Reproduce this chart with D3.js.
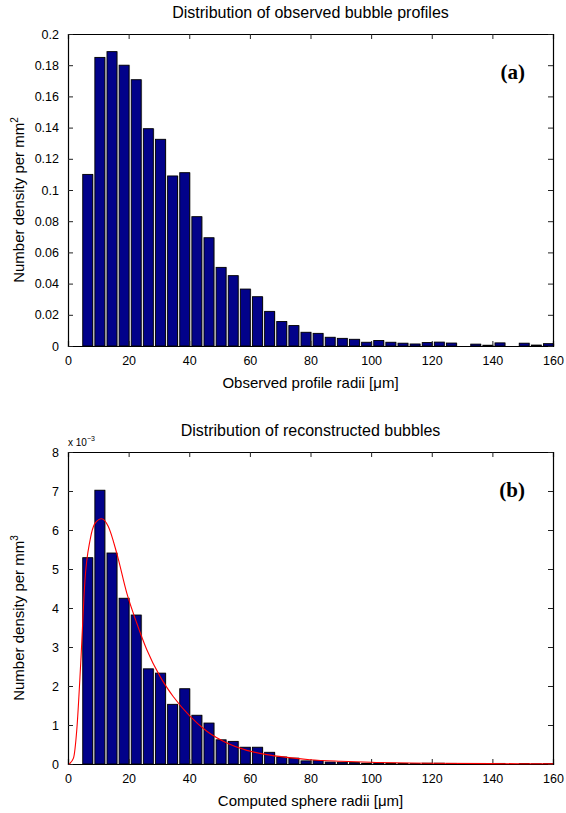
<!DOCTYPE html>
<html>
<head>
<meta charset="utf-8">
<script src="https://cdn.jsdelivr.net/npm/d3@7/dist/d3.min.js"></script>
<style>
  body { margin: 0; background: #fff; }
  svg text { fill: #000; }
</style>
</head>
<body>
<svg id="chart" width="566" height="813" font-family="Liberation Sans, Arial, sans-serif"></svg>
<script>
// ---------- data ----------
const binCenters = [6.5, 10.5, 14.5, 18.5, 22.5, 26.5, 30.5, 34.5, 38.5, 42.5,
  46.5, 50.5, 54.5, 58.5, 62.5, 66.5, 70.5, 74.5, 78.5, 82.5,
  86.5, 90.5, 94.5, 98.5, 102.5, 106.5, 110.5, 114.5, 118.5, 122.5,
  126.5, 130.5, 134.5, 138.5, 142.5, 146.5, 150.5, 154.5, 158.5];

// (a) observed profile densities per mm^2
const observedDensity = [0.110, 0.185, 0.1887, 0.180, 0.1707, 0.1393, 0.1325, 0.109, 0.1111, 0.0829,
  0.0694, 0.0504, 0.0451, 0.0365, 0.0316, 0.0222, 0.0157, 0.0131, 0.0088, 0.0081,
  0.0056, 0.0049, 0.0043, 0.0024, 0.0035, 0.0024, 0.0018, 0.0013, 0.0022, 0.0025,
  0.0019, 0.0, 0.0012, 0.0005, 0.0020, 0.0, 0.0018, 0.0006, 0.0015];

// (b) reconstructed sphere densities per mm^3 (x 10^-3)
const sphereDensity = [5.29, 7.02, 5.41, 4.25, 3.82, 2.44, 2.33, 1.53, 1.93, 1.25,
  1.05, 0.62, 0.58, 0.43, 0.43, 0.30, 0.18, 0.15, 0.08, 0.085,
  0.05, 0.045, 0.035, 0.02, 0.03, 0.02, 0.015, 0.01, 0.02, 0.02,
  0.015, 0.0, 0.01, 0.005, 0.015, 0.0, 0.012, 0.005, 0.01];

// fitted curve in (b)
const fitX = [0.4, 1.8, 2.9, 4.2, 5.6, 7.3, 8.9, 11.1, 13.3, 16.1, 19.4, 22.7, 26.0, 30.4, 34.7,
  40.3, 45.8, 52.4, 59.0, 65.6, 72.2, 79.8, 90, 100, 120, 140, 160];
const fitY = [0, 0.15, 0.88, 2.59, 4.72, 5.75, 6.17, 6.29, 6.09, 5.40, 4.38, 3.61, 2.93, 2.24, 1.73,
  1.22, 0.84, 0.54, 0.35, 0.24, 0.17, 0.11, 0.07, 0.045, 0.02, 0.01, 0.005];

const xTicks = [0, 20, 40, 60, 80, 100, 120, 140, 160];
const yTicksA = [0, 0.02, 0.04, 0.06, 0.08, 0.1, 0.12, 0.14, 0.16, 0.18, 0.2];
const yTickLabelsA = ["0", "0.02", "0.04", "0.06", "0.08", "0.1", "0.12", "0.14", "0.16", "0.18", "0.2"];
const yTicksB = [0, 1, 2, 3, 4, 5, 6, 7, 8];
const yTickLabelsB = ["0", "1", "2", "3", "4", "5", "6", "7", "8"];

// ---------- drawing ----------
const svg = d3.select("#chart");
const left = 68, right = 553;
const barColor = "#02028a";
const binWidth = 4, barFrac = 0.82;
const sans = "Liberation Sans, Arial, sans-serif";

function panel(opts) {
  const { top, bottom, yMax, yTicks, yLabels, values, title, xLabel, yLabelMain, yLabelSup, tag } = opts;
  const x = d3.scaleLinear().domain([0, 160]).range([left, right]);
  const y = d3.scaleLinear().domain([0, yMax]).range([bottom, top]);
  const g = svg.append("g");

  const bw = binWidth * barFrac;
  g.selectAll("rect.shadow").data(binCenters).enter().append("rect")
    .attr("x", (d) => x(d - bw / 2) + 1)
    .attr("y", (d, i) => y(values[i]))
    .attr("width", (d) => x(d + bw / 2) - x(d - bw / 2))
    .attr("height", (d, i) => Math.max(0, bottom - y(values[i])))
    .attr("fill", "#b8b8b8");
  g.selectAll("rect.bar").data(binCenters).enter().append("rect")
    .attr("x", (d) => x(d - bw / 2))
    .attr("y", (d, i) => y(values[i]))
    .attr("width", (d) => x(d + bw / 2) - x(d - bw / 2))
    .attr("height", (d, i) => Math.max(0, bottom - y(values[i])))
    .attr("fill", barColor)
    .attr("stroke", "#000")
    .attr("stroke-width", 0.9);

  const fmtY = (d) => yLabels[yTicks.indexOf(d)];
  const axB = g.append("g").attr("transform", `translate(0,${bottom})`)
    .call(d3.axisBottom(x).tickValues(xTicks).tickSize(-5).tickPadding(10).tickFormat(d3.format("d")));
  const axT = g.append("g").attr("transform", `translate(0,${top})`)
    .call(d3.axisTop(x).tickValues(xTicks).tickSize(-5).tickFormat(""));
  const axL = g.append("g").attr("transform", `translate(${left},0)`)
    .call(d3.axisLeft(y).tickValues(yTicks).tickSize(-5).tickPadding(9).tickFormat(fmtY));
  const axR = g.append("g").attr("transform", `translate(${right},0)`)
    .call(d3.axisRight(y).tickValues(yTicks).tickSize(-5).tickFormat(""));
  [axB, axT, axL, axR].forEach((a) => {
    a.attr("font-family", sans);
    a.select(".domain").attr("stroke", "#000").attr("stroke-width", 1.2);
    a.selectAll(".tick line").attr("stroke", "#222");
    a.selectAll("text").attr("font-size", 12.5).attr("fill", "#000");
  });

  g.append("text").attr("x", (left + right) / 2).attr("y", top - 16)
    .attr("text-anchor", "middle").attr("font-size", 16).attr("font-family", sans).text(title);
  g.append("text").attr("x", (left + right) / 2).attr("y", bottom + 42)
    .attr("text-anchor", "middle").attr("font-size", 15).attr("font-family", sans).text(xLabel);
  const yl = g.append("text").attr("transform", `translate(24,${(top + bottom) / 2 + 10}) rotate(-90)`)
    .attr("text-anchor", "middle").attr("font-size", 15).attr("font-family", sans);
  yl.append("tspan").text(yLabelMain);
  yl.append("tspan").attr("font-size", 10).attr("dy", -6).text(yLabelSup);
  g.append("text").attr("x", right - 28).attr("y", top + 45)
    .attr("text-anchor", "end")
    .style("font-family", "'Liberation Serif', 'Times New Roman', serif")
    .attr("font-weight", "bold").attr("font-size", 21).text(tag);
  return { g, x, y };
}

const pa = panel({
  top: 34, bottom: 346, yMax: 0.2, yTicks: yTicksA, yLabels: yTickLabelsA,
  values: observedDensity, title: "Distribution of observed bubble profiles",
  xLabel: "Observed profile radii [\u03bcm]", yLabelMain: "Number density per mm", yLabelSup: "2", tag: "(a)"
});

const pb = panel({
  top: 452, bottom: 764, yMax: 8, yTicks: yTicksB, yLabels: yTickLabelsB,
  values: sphereDensity, title: "Distribution of reconstructed bubbles",
  xLabel: "Computed sphere radii [\u03bcm]", yLabelMain: "Number density per mm", yLabelSup: "3", tag: "(b)"
});

const ex = svg.append("text").attr("x", 68).attr("y", 446).attr("font-size", 10).attr("font-family", sans);
ex.append("tspan").text("x 10");
ex.append("tspan").attr("font-size", 7).attr("dy", -5).text("\u22123");

const fitPts = fitX.map((v, i) => [v, fitY[i]]);
pb.g.append("path")
  .datum(fitPts)
  .attr("fill", "none")
  .attr("stroke", "#ff0000")
  .attr("stroke-width", 1.1)
  .attr("d", d3.line().x((d) => pb.x(d[0])).y((d) => pb.y(d[1])).curve(d3.curveMonotoneX));
</script>
</body>
</html>
